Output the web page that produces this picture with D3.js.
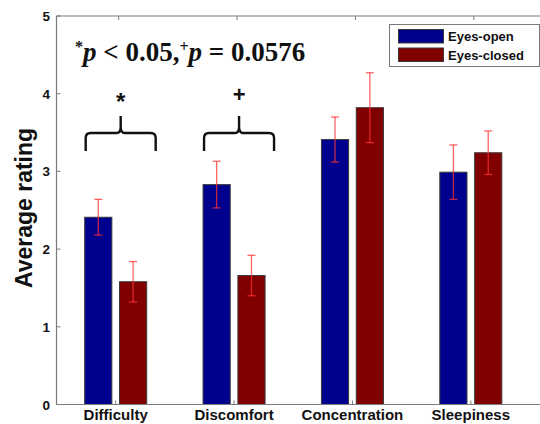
<!DOCTYPE html>
<html>
<head>
<meta charset="utf-8">
<script src="https://cdn.jsdelivr.net/npm/d3@7"></script>
<style>
  body { margin: 0; background: #fff; }
  svg { display: block; }
  text { font-family: Arial, "Liberation Sans", sans-serif; }
</style>
</head>
<body>
<div id="chart"></div>
<script>
(function() {
  var width = 540, height = 424

  // data
  var categories = ["Difficulty", "Discomfort", "Concentration", "Sleepiness"]
  var series = ["Eyes-open", "Eyes-closed"]
  var eyesOpen = [2.41, 2.83, 3.41, 2.99]
  var eyesOpenErr = [0.23, 0.30, 0.29, 0.35]
  var eyesClosed = [1.58, 1.66, 3.82, 3.24]
  var eyesClosedErr = [0.26, 0.26, 0.45, 0.28]
  var yTicks = [0, 1, 2, 3, 4, 5]
  var brackets = [
    { cat: "Difficulty", mark: "*" },
    { cat: "Discomfort", mark: "+" }
  ]

  var colors = { "Eyes-open": "#00008f", "Eyes-closed": "#800000" }
  var axisColor = "#7a7a7a"

  var plot = { left: 56.5, right: 530, top: 16, bottom: 404.5 }

  var svg = d3.select("#chart")
    .append("svg")
    .attr("width", width)
    .attr("height", height)

  var xScale = d3.scaleBand()
    .domain(categories)
    .range([plot.left, plot.right])
    .padding(0)

  var yScale = d3.scaleLinear()
    .domain([0, 5])
    .range([plot.bottom, plot.top])

  var center = function(c) { return xScale(c) + xScale.bandwidth() / 2 }

  var subScale = d3.scaleBand()
    .domain(series)
    .range([-31, 31])
    .paddingInner(0.22)

  var rows = []
  categories.forEach(function(c, i) {
    rows.push({ cat: c, s: "Eyes-open", v: eyesOpen[i], e: eyesOpenErr[i] })
    rows.push({ cat: c, s: "Eyes-closed", v: eyesClosed[i], e: eyesClosedErr[i] })
  })

  // top border of the axes box
  svg.append("line")
    .attr("x1", plot.left).attr("x2", width)
    .attr("y1", plot.top).attr("y2", plot.top)
    .attr("stroke", axisColor).attr("stroke-width", 1.2)

  // bars
  svg.selectAll("rect.bar")
    .data(rows)
    .enter().append("rect")
    .attr("class", "bar")
    .attr("x", function(d) { return center(d.cat) + subScale(d.s) })
    .attr("width", subScale.bandwidth())
    .attr("y", function(d) { return yScale(d.v) })
    .attr("height", function(d) { return yScale(0) - yScale(d.v) })
    .attr("fill", function(d) { return colors[d.s] })
    .attr("stroke", "#3a3a3a")
    .attr("stroke-width", 1)

  // error bars
  var errG = svg.selectAll("g.err")
    .data(rows)
    .enter().append("g")
    .attr("class", "err")
    .attr("stroke", "#ff3030")
    .attr("stroke-opacity", 0.75)
    .attr("stroke-width", 1.3)
    .attr("transform", function(d) {
      return "translate(" + (center(d.cat) + subScale(d.s) + subScale.bandwidth() / 2) + ",0)"
    })

  errG.append("line")
    .attr("x1", 0).attr("x2", 0)
    .attr("y1", function(d) { return yScale(d.v + d.e) })
    .attr("y2", function(d) { return yScale(d.v - d.e) })
  errG.append("line")
    .attr("x1", -4).attr("x2", 4)
    .attr("y1", function(d) { return yScale(d.v + d.e) })
    .attr("y2", function(d) { return yScale(d.v + d.e) })
  errG.append("line")
    .attr("x1", -4).attr("x2", 4)
    .attr("y1", function(d) { return yScale(d.v - d.e) })
    .attr("y2", function(d) { return yScale(d.v - d.e) })

  // left axis
  svg.append("line")
    .attr("x1", plot.left).attr("x2", plot.left)
    .attr("y1", plot.top).attr("y2", plot.bottom)
    .attr("stroke", axisColor).attr("stroke-width", 1.2)

  svg.selectAll("line.ytick")
    .data(yTicks)
    .enter().append("line")
    .attr("class", "ytick")
    .attr("x1", plot.left).attr("x2", plot.left + 4)
    .attr("y1", function(d) { return yScale(d) })
    .attr("y2", function(d) { return yScale(d) })
    .attr("stroke", axisColor)

  svg.selectAll("text.ylab")
    .data(yTicks)
    .enter().append("text")
    .attr("class", "ylab")
    .attr("x", 50)
    .attr("y", function(d) { return yScale(d) + 5 })
    .attr("text-anchor", "end")
    .attr("font-size", "13.5px")
    .attr("font-weight", "bold")
    .attr("fill", "#111")
    .text(function(d) { return d })

  // bottom axis
  svg.append("line")
    .attr("x1", plot.left).attr("x2", width)
    .attr("y1", plot.bottom).attr("y2", plot.bottom)
    .attr("stroke", axisColor).attr("stroke-width", 1.2)

  svg.selectAll("line.xtick")
    .data(categories)
    .enter().append("line")
    .attr("class", "xtick")
    .attr("x1", function(d) { return center(d) })
    .attr("x2", function(d) { return center(d) })
    .attr("y1", plot.bottom).attr("y2", plot.bottom - 4)
    .attr("stroke", axisColor)

  svg.selectAll("line.xtick-top")
    .data(categories)
    .enter().append("line")
    .attr("class", "xtick-top")
    .attr("x1", function(d) { return center(d) + 3 })
    .attr("x2", function(d) { return center(d) + 3 })
    .attr("y1", plot.top).attr("y2", plot.top + 4)
    .attr("stroke", axisColor)

  svg.selectAll("text.xlab")
    .data(categories)
    .enter().append("text")
    .attr("class", "xlab")
    .attr("x", function(d) { return center(d) })
    .attr("y", 420)
    .attr("text-anchor", "middle")
    .attr("font-size", "15px")
    .attr("font-weight", "bold")
    .attr("fill", "#111")
    .text(function(d) { return d })

  // y axis title
  svg.append("text")
    .attr("transform", "translate(32,208) rotate(-90)")
    .attr("text-anchor", "middle")
    .attr("font-size", "23px")
    .attr("font-weight", "bold")
    .attr("fill", "#111")
    .text("Average rating")

  // significance brackets
  var br = svg.selectAll("g.bracket")
    .data(brackets)
    .enter().append("g")
    .attr("class", "bracket")
    .attr("transform", function(d) { return "translate(" + (center(d.cat) + 5) + ",0)" })

  br.append("path")
    .attr("d", function() {
      var w = 35, yb = 151, yh = 133, yp = 116
      return "M" + (-w) + "," + yb + " L" + (-w) + "," + (yh + 5) +
        " Q" + (-w) + "," + yh + " " + (-w + 5) + "," + yh +
        " L-4," + yh + " Q0," + yh + " 0," + (yh - 6) + " L0," + yp +
        " M0," + (yh - 6) + " Q0," + yh + " 4," + yh +
        " L" + (w - 5) + "," + yh + " Q" + w + "," + yh + " " + w + "," + (yh + 5) +
        " L" + w + "," + yb
    })
    .attr("fill", "none")
    .attr("stroke", "#111")
    .attr("stroke-width", 2.4)

  br.append("text")
    .attr("x", 0)
    .attr("y", function(d) { return d.mark === "*" ? 110 : 102 })
    .attr("text-anchor", "middle")
    .attr("font-size", function(d) { return d.mark === "*" ? "24px" : "22px" })
    .attr("font-weight", "bold")
    .attr("fill", "#111")
    .text(function(d) { return d.mark })

  // p-value note (Times-like serif)
  var note = svg.append("text")
    .attr("x", 75)
    .attr("y", 61)
    .style("font-family", "'Liberation Serif', 'Times New Roman', serif")
    .attr("font-size", "27px")
    .attr("font-weight", "bold")
    .attr("fill", "#111")
  note.append("tspan").attr("font-size", "16px").attr("dy", -9).text("*")
  note.append("tspan").attr("font-style", "italic").attr("dy", 9).text("p")
  note.append("tspan").text(" < 0.05,")
  note.append("tspan").attr("font-size", "16px").attr("dy", -9).text("+")
  note.append("tspan").attr("font-style", "italic").attr("dy", 9).text("p")
  note.append("tspan").text(" = 0.0576")

  // legend
  var legend = svg.append("g")
  legend.append("rect")
    .attr("x", 389.5).attr("y", 24.5)
    .attr("width", 150).attr("height", 42)
    .attr("fill", "#fff")
    .attr("stroke", axisColor)

  var li = legend.selectAll("g.item")
    .data(series)
    .enter().append("g")
    .attr("class", "item")
    .attr("transform", function(d, i) { return "translate(0," + (i * 18.5) + ")" })

  li.append("rect")
    .attr("x", 398.5).attr("y", 29.5)
    .attr("width", 45).attr("height", 13.5)
    .attr("fill", function(d) { return colors[d] })
    .attr("stroke", "#3a3a3a")

  li.append("text")
    .attr("x", 448)
    .attr("y", 41)
    .attr("font-size", "13px")
    .attr("font-weight", "bold")
    .attr("fill", "#111")
    .text(function(d) { return d })
})();
</script>
</body>
</html>
